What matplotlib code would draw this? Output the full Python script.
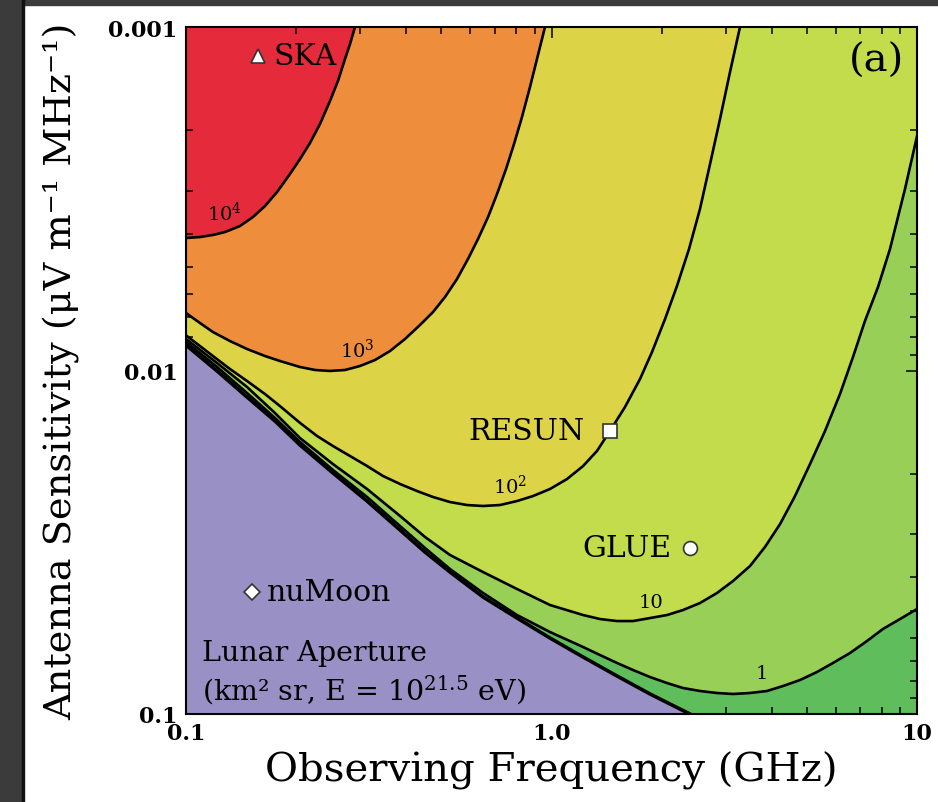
import matplotlib.pyplot as plt
from matplotlib.patches import Rectangle

plt.rcParams['font.family'] = ['DejaVu Serif']
plt.rcParams['mathtext.fontset'] = 'dejavuserif'

# === Contours: frequency (GHz) / sensitivity (uV m-1 MHz-1) ===
f_1e4 = [0.1, 0.1092, 0.1185, 0.1279, 0.1405, 0.1525, 0.1645, 0.1775, 0.1925, 0.2051, 0.2184,
         0.2326, 0.2477, 0.2605, 0.2723, 0.2810, 0.2900]
s_1e4 = [0.004114, 0.004087, 0.004031, 0.003952, 0.003796, 0.003574, 0.00332, 0.003022, 0.002679, 0.002423, 0.002176,
         0.001916, 0.001642, 0.001436, 0.001239, 0.001121, 0.001]

f_1e3 = [0.1, 0.1092, 0.1185, 0.1319, 0.1469, 0.1645, 0.1807, 0.2051, 0.2254, 0.2477, 0.2723, 0.2993, 0.3290,
         0.3615, 0.3973, 0.4367, 0.4741, 0.5113, 0.5514, 0.5909, 0.6294, 0.6706, 0.7096, 0.7509, 0.7897,
         0.8304, 0.8733, 0.9127, 0.9598]
s_1e3 = [0.006803, 0.007273, 0.007727, 0.008207, 0.008659, 0.009075, 0.009383, 0.009768, 0.009966, 0.01003, 0.009966,
         0.009703, 0.00932, 0.008776, 0.008097, 0.007372, 0.006758, 0.006109, 0.005415, 0.004736, 0.004142,
         0.003574, 0.003063, 0.002591, 0.002191, 0.001828, 0.001495, 0.001239, 0.001]

f_1e2 = [0.1006, 0.1092, 0.1185, 0.1319, 0.1469, 0.1645, 0.1807, 0.2051, 0.2283, 0.2524, 0.2810, 0.3129, 0.3459,
         0.3851, 0.4285, 0.4741, 0.5276, 0.5872, 0.6496, 0.7230, 0.8048, 0.8901, 0.9905, 1.1026, 1.2203,
         1.3317, 1.4456, 1.5889, 1.7464, 1.8836, 2.0448, 2.2043, 2.378, 2.548, 2.7151, 2.891, 3.079, 3.279]
s_1e2 = [0.007938, 0.008488, 0.009075, 0.009899, 0.01073, 0.01171, 0.01269, 0.01421, 0.01551, 0.01659, 0.01774,
         0.01897, 0.02028, 0.0214, 0.02243, 0.02335, 0.02415, 0.02464, 0.0248, 0.02464, 0.02399, 0.0232, 0.02213,
         0.0207, 0.01897, 0.01715, 0.015, 0.01277, 0.01059, 0.008835, 0.007081, 0.005675, 0.00443, 0.003388,
         0.002505, 0.001853, 0.001352, 0.001]

f_1e1 = [0.1, 0.1216, 0.1469, 0.1752, 0.2051, 0.2524, 0.3129, 0.3851, 0.4507, 0.5276, 0.6496, 0.8048, 0.9905,
         1.2203, 1.3575, 1.5108, 1.6711, 1.8606, 2.0701, 2.2895, 2.548, 2.837, 3.137, 3.493, 3.838, 4.220,
         4.637, 5.097, 5.602, 6.156, 6.682, 7.204, 7.823, 8.435, 9.273, 10.0]
s_1e1 = [0.008097, 0.009511, 0.01117, 0.0133, 0.01573, 0.01872, 0.02213, 0.02651, 0.03052, 0.03444, 0.03861,
         0.04326, 0.04816, 0.05151, 0.05291, 0.05363, 0.05363, 0.05256, 0.05151, 0.04981, 0.04753, 0.04443,
         0.04101, 0.03708, 0.03264, 0.02799, 0.0232, 0.01872, 0.015, 0.01171, 0.009135, 0.007177, 0.005713,
         0.00443, 0.00296, 0.00208]

f_1e0 = [0.1, 0.1216, 0.1469, 0.1752, 0.2051, 0.2524, 0.3129, 0.3851, 0.4507, 0.5276, 0.6496, 0.8048, 0.9905,
         1.2203, 1.3575, 1.5108, 1.6711, 1.8606, 2.0701, 2.2895, 2.548, 2.837, 3.137, 3.493, 3.887, 4.300,
         4.786, 5.325, 5.891, 6.557, 7.298, 8.072, 8.985, 10.0]
s_1e0 = [0.00826, 0.009768, 0.01163, 0.01375, 0.01615, 0.01948, 0.02335, 0.02836, 0.03286, 0.03784, 0.04443,
         0.05151, 0.05772, 0.06383, 0.06735, 0.07103, 0.07446, 0.07806, 0.08124, 0.08401, 0.08571, 0.08687,
         0.08745, 0.08687, 0.08571, 0.08289, 0.07962, 0.07547, 0.07103, 0.06644, 0.0613, 0.05655, 0.05291,
         0.04948]

# edge of the zero-aperture (purple) region
f_zero = [0.1, 0.1216, 0.1469, 0.1752, 0.2051, 0.2524, 0.3129, 0.3851, 0.4507, 0.5276, 0.6496, 0.8048, 0.9905,
          1.2203, 1.5108, 1.8606, 2.109, 2.3922]
s_zero = [0.008431, 0.01003, 0.01195, 0.01403, 0.01648, 0.01988, 0.02399, 0.02913, 0.03377, 0.03861, 0.04564,
          0.05256, 0.06009, 0.06826, 0.07751, 0.08745, 0.09352, 0.1]

# contour labels
lab_txt = ['$10^4$', '$10^3$', '$10^2$', '10', '1']
lab_f = [0.1271, 0.2937, 0.77, 1.8723, 3.766]
lab_s = [0.003456, 0.008659, 0.02154, 0.04721, 0.07598]

# experiments
exp_nom = ['SKA', 'RESUN', 'GLUE', 'nuMoon']
exp_f = [0.1574, 1.4456, 2.3922, 0.1516]
exp_s = [0.001215, 0.0150, 0.03286, 0.04414]
exp_mk = ['^', 's', 'o', 'D']

couleurs = ['#5fbd5b', '#98cf57', '#c3dc4c', '#dcd347', '#ee8d3b', '#e52b3b']
violet = '#9990c5'

# === Figure ===
fig = plt.figure(figsize=(9.38, 8.03), dpi=100)
fig.patches.append(Rectangle((0, 0), 22 / 938, 1, transform=fig.transFigure, color='#3b3b3b', zorder=-5))
fig.patches.append(Rectangle((0, 1 - 6 / 803), 1, 6 / 803, transform=fig.transFigure, color='#3b3b3b', zorder=-5))
fig.patches.append(Rectangle((22 / 938, 0), 2 / 938, 1, transform=fig.transFigure, color='#111111', zorder=-4))

ax = fig.add_axes([186 / 938, 88 / 803, 731 / 938, 687 / 803])
ax.set_xscale('log')
ax.set_yscale('log')
xmin, xmax = 0.1, 10
ymin, ymax = 0.1, 0.001
ax.set_xlim(xmin, xmax)
ax.set_ylim(ymin, ymax)
ax.set_facecolor(couleurs[0])

courbes = [(f_1e0, s_1e0), (f_1e1, s_1e1), (f_1e2, s_1e2), (f_1e3, s_1e3), (f_1e4, s_1e4)]
for (fx, sy), c in zip(courbes, couleurs[1:]):
    ax.fill_between(fx, sy, ymax, color=c, lw=0, zorder=1)
ax.fill_between(f_zero, s_zero, ymin, color=violet, lw=0, zorder=2)

for fx, sy in courbes:
    ax.plot(fx, sy, color='black', lw=1.9, zorder=3, solid_joinstyle='round')
ax.plot(f_zero, s_zero, color='black', lw=2.6, zorder=3, solid_joinstyle='round')

for t, fx, sy in zip(lab_txt, lab_f, lab_s):
    ax.text(fx, sy, t, fontsize=14, ha='center', va='center', zorder=5)

# experiments
for nom, fx, sy, mk in zip(exp_nom, exp_f, exp_s, exp_mk):
    ax.plot(fx, sy, marker=mk, ms=10 if mk != 'D' else 8, mfc='white', mec='#333333', mew=1.2,
            ls='none', zorder=6)
    if nom in ('SKA', 'nuMoon'):
        ax.annotate(nom, (fx, sy), xytext=(11, 0), textcoords='offset points',
                    ha='left', va='center', fontsize=21.5, zorder=6)
    else:
        ax.annotate(nom, (fx, sy), xytext=(-13 if nom == 'GLUE' else -18, 0), textcoords='offset points',
                    ha='right', va='center', fontsize=21.5, zorder=6)

ax.text(0.022, 0.011, 'Lunar Aperture\n(km² sr, E = 10$^{21.5}$ eV)', transform=ax.transAxes,
        fontsize=20.5, ha='left', va='bottom', linespacing=1.25, zorder=6)
ax.text(0.945, 0.952, '(a)', transform=ax.transAxes, fontsize=29, ha='center', va='center', zorder=6)

# === Axes ===
ax.set_xticks([0.1, 1, 10])
ax.set_xticklabels(['0.1', '1.0', '10'])
ax.set_yticks([0.001, 0.01, 0.1])
ax.set_yticklabels(['0.001', '0.01', '0.1'])
for lbl in ax.get_xticklabels() + ax.get_yticklabels():
    lbl.set_fontweight('bold')
    lbl.set_fontsize(16)
ax.tick_params(which='both', direction='in', top=True, right=True, width=1.1)
ax.tick_params(which='major', length=8, pad=6)
ax.tick_params(which='minor', length=5)
for sp in ax.spines.values():
    sp.set_linewidth(1.5)

ax.set_xlabel('Observing Frequency (GHz)', fontsize=29)
ax.xaxis.set_label_coords(0.5, -0.053)
ax.set_ylabel('Antenna Sensitivity (μV m⁻¹ MHz⁻¹)', fontsize=27.5)
ax.yaxis.set_label_coords(-0.145, 0.5)

fig.savefig('out.png', dpi=100)
